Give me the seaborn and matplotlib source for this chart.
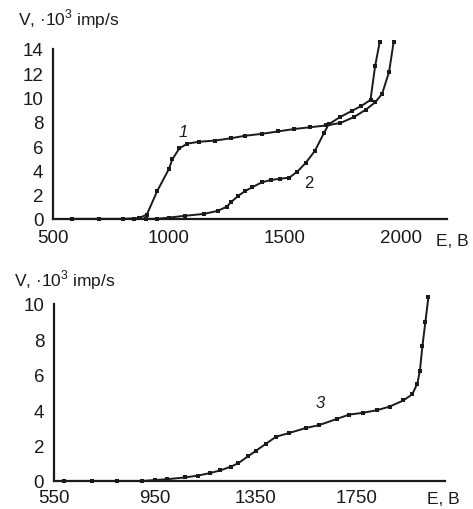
import matplotlib
matplotlib.use("Agg")
import matplotlib.pyplot as plt
import pandas as pd
import seaborn as sns

# curve 1 (top panel)
e1 = [580, 700, 800, 870, 905, 950, 1000, 1015, 1045, 1080, 1130, 1200, 1270, 1330,
      1400, 1470, 1540, 1610, 1680, 1740, 1800, 1850, 1890, 1920, 1950, 1970]
v1 = [0, 0, 0, 0.05, 0.35, 2.3, 4.1, 4.9, 5.8, 6.2, 6.35, 6.45, 6.65, 6.85,
      7.0, 7.2, 7.4, 7.55, 7.7, 7.9, 8.4, 9.0, 9.6, 10.3, 12.1, 14.6]

# curve 2 (top panel)
e2 = [850, 900, 950, 1000, 1070, 1150, 1210, 1250, 1270, 1300, 1330, 1360, 1400, 1440,
      1480, 1520, 1555, 1590, 1630, 1670, 1690, 1740, 1790, 1830, 1870, 1890, 1910]
v2 = [0, 0, 0, 0.1, 0.25, 0.4, 0.65, 1.0, 1.4, 1.9, 2.3, 2.6, 3.0, 3.2,
      3.3, 3.4, 3.9, 4.6, 5.6, 7.1, 7.8, 8.4, 8.9, 9.3, 9.8, 12.6, 14.6]

# curve 3 (bottom panel)
e3 = [590, 700, 800, 900, 950, 1000, 1070, 1120, 1170, 1210, 1250, 1280, 1320, 1350,
      1390, 1430, 1480, 1550, 1600, 1670, 1720, 1775, 1830, 1880, 1935, 1970, 1990,
      2000, 2010, 2022, 2034]
v3 = [0, 0, 0, 0, 0.05, 0.1, 0.2, 0.3, 0.45, 0.6, 0.8, 1.0, 1.4, 1.7,
      2.1, 2.5, 2.7, 3.0, 3.15, 3.5, 3.75, 3.85, 4.0, 4.2, 4.55, 4.9, 5.5,
      6.2, 7.6, 9.0, 10.4]

top_xticks = [500, 1000, 1500, 2000]
top_yticks = [0, 2, 4, 6, 8, 10, 12, 14]
bot_xticks = [550, 950, 1350, 1750]
bot_yticks = [0, 2, 4, 6, 8, 10]

ylabel = "V, \u00b710$^3$ imp/s"
xlabel = "E, B"

sns.set_style("white")
plt.rcParams["font.family"] = ["Liberation Sans", "DejaVu Sans"]
plt.rcParams["mathtext.fontset"] = "custom"
plt.rcParams["mathtext.rm"] = "Liberation Sans"

ink = "#1a1a1a"
fig = plt.figure(figsize=(4.73, 5.10), dpi=100)
ax1 = fig.add_axes([0.112, 0.569, 0.833, 0.333])
ax2 = fig.add_axes([0.114, 0.055, 0.827, 0.347])


def draw_curve(ax, e, v):
    df = pd.DataFrame({"E": e, "V": v})
    sns.lineplot(data=df, x="E", y="V", ax=ax, sort=False, color=ink, lw=1.4,
                 marker="s", markersize=2.6, markeredgewidth=0, clip_on=False)


draw_curve(ax1, e1, v1)
draw_curve(ax1, e2, v2)
draw_curve(ax2, e3, v3)


def style_axis(ax, xlim, ylim, xticks, yticks, xpad, xl_off, yl_off):
    ax.set_xlim(*xlim)
    ax.set_ylim(*ylim)
    ax.set_xticks(xticks + [xlim[1]])
    ax.set_xticklabels([str(t) for t in xticks] + [""])
    ax.set_yticks(yticks)
    ax.set_xlabel("")
    ax.set_ylabel("")
    for s in ["top", "right"]:
        ax.spines[s].set_visible(False)
    for s in ["left", "bottom"]:
        ax.spines[s].set_linewidth(1.6)
        ax.spines[s].set_color(ink)
    ax.tick_params(direction="in", length=5, width=1.3, colors=ink,
                   labelsize=13.5, pad=xpad)
    ax.tick_params(axis="y", pad=7)
    ax.annotate(xlabel, xy=(1.0, 0), xycoords="axes fraction", xytext=xl_off,
                textcoords="offset points", ha="center", va="top",
                fontsize=12.5, color=ink)
    ax.annotate(ylabel, xy=(0, 1), xycoords="axes fraction", xytext=yl_off,
                textcoords="offset points", ha="left", va="bottom",
                fontsize=12.5, color=ink)


style_axis(ax1, (500, 2200), (0, 14), top_xticks, top_yticks, 7.5, (4, -10), (-25, 14))
style_axis(ax2, (550, 2100), (0, 10), bot_xticks, bot_yticks, 6, (-1, -7.5), (-29, 9))

ax1.text(1040, 6.8, "1", fontsize=12, style="italic", color=ink)
ax1.text(1585, 2.6, "2", fontsize=12, color=ink)
ax2.text(1585, 4.2, "3", fontsize=12, style="italic", color=ink)

fig.savefig("out.png", dpi=100, facecolor="white")
